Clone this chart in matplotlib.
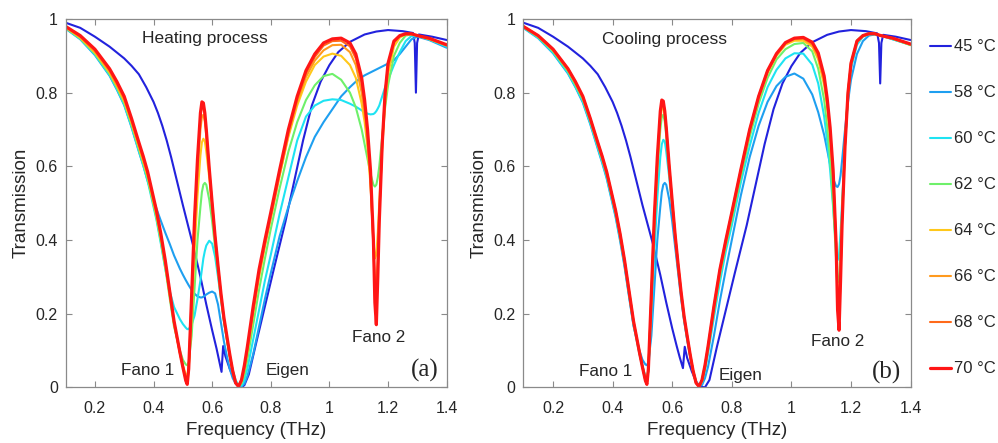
import matplotlib
matplotlib.use("Agg")
import matplotlib.pyplot as plt

plt.rcParams['font.family'] = ['Liberation Sans', 'DejaVu Sans']

# ---------------- data ----------------
temps = ["45 °C", "58 °C", "60 °C", "62 °C", "64 °C", "66 °C", "68 °C", "70 °C"]
colors = ["#2222dd", "#1e9ff0", "#1ee3f2", "#6ef06a", "#ffc81a", "#ff9a1e", "#ff6a1a", "#ff1616"]

# shared frequency grid (THz) for the 58-70 °C curves
freq = [0.10, 0.15, 0.20, 0.25, 0.275,
        0.30, 0.325, 0.35, 0.365, 0.38,
        0.41, 0.425, 0.44, 0.455, 0.47,
        0.49, 0.50, 0.51, 0.515, 0.52,
        0.53, 0.54, 0.55, 0.56, 0.565,
        0.57, 0.575, 0.58, 0.59, 0.60,
        0.61, 0.62, 0.63, 0.64, 0.65,
        0.66, 0.67, 0.68, 0.69, 0.70,
        0.71, 0.72, 0.74, 0.76, 0.78,
        0.80, 0.83, 0.86, 0.89, 0.92,
        0.95, 0.98, 1.01, 1.04, 1.07,
        1.09, 1.11, 1.12, 1.13, 1.14,
        1.15, 1.155, 1.16, 1.165, 1.17,
        1.18, 1.19, 1.20, 1.22, 1.24,
        1.26, 1.28, 1.30, 1.34, 1.40]

# ---- (a) heating ----
t58_a = [0.974, 0.945, 0.902, 0.846, 0.808,
         0.766, 0.706, 0.640, 0.602, 0.560,
         0.485, 0.452, 0.420, 0.390, 0.358,
         0.322, 0.306, 0.291, 0.284, 0.277,
         0.264, 0.254, 0.247, 0.244, 0.244,
         0.246, 0.249, 0.252, 0.257, 0.260,
         0.255, 0.225, 0.175, 0.125, 0.085,
         0.050, 0.025, 0.010, 0.003, 0.002,
         0.010, 0.030, 0.090, 0.165, 0.240,
         0.310, 0.410, 0.490, 0.560, 0.625,
         0.680, 0.720, 0.755, 0.790, 0.815,
         0.830, 0.842, 0.847, 0.851, 0.855,
         0.859, 0.861, 0.863, 0.865, 0.867,
         0.871, 0.875, 0.879, 0.888, 0.905,
         0.925, 0.945, 0.952, 0.943, 0.922]
t60_a = [0.975, 0.946, 0.904, 0.848, 0.810,
         0.768, 0.708, 0.642, 0.603, 0.560,
         0.455, 0.390, 0.322, 0.262, 0.218,
         0.185, 0.172, 0.162, 0.158, 0.158,
         0.170, 0.195, 0.240, 0.290, 0.320,
         0.350, 0.370, 0.385, 0.398, 0.390,
         0.355, 0.300, 0.240, 0.180, 0.130,
         0.085, 0.047, 0.020, 0.005, 0.004,
         0.020, 0.050, 0.130, 0.210, 0.290,
         0.360, 0.470, 0.570, 0.670, 0.735,
         0.765, 0.778, 0.782, 0.780, 0.770,
         0.762, 0.752, 0.747, 0.743, 0.741,
         0.742, 0.745, 0.750, 0.757, 0.765,
         0.790, 0.815, 0.835, 0.875, 0.910,
         0.940, 0.954, 0.954, 0.945, 0.925]
t62_a = [0.976, 0.947, 0.906, 0.851, 0.814,
         0.772, 0.713, 0.647, 0.608, 0.566,
         0.460, 0.396, 0.325, 0.243, 0.165,
         0.100, 0.075, 0.062, 0.060, 0.068,
         0.140, 0.270, 0.400, 0.490, 0.530,
         0.550, 0.555, 0.550, 0.510, 0.450,
         0.380, 0.310, 0.240, 0.180, 0.130,
         0.085, 0.045, 0.015, 0.003, 0.010,
         0.035, 0.075, 0.170, 0.265, 0.350,
         0.430, 0.540, 0.640, 0.720, 0.780,
         0.820, 0.845, 0.851, 0.835, 0.800,
         0.760, 0.700, 0.660, 0.620, 0.580,
         0.550, 0.545, 0.550, 0.570, 0.600,
         0.680, 0.760, 0.820, 0.900, 0.935,
         0.955, 0.958, 0.955, 0.945, 0.928]
t64_a = [0.977, 0.949, 0.909, 0.855, 0.818,
         0.777, 0.718, 0.652, 0.613, 0.572,
         0.467, 0.404, 0.333, 0.252, 0.172,
         0.092, 0.060, 0.035, 0.030, 0.050,
         0.190, 0.370, 0.520, 0.630, 0.665,
         0.675, 0.668, 0.640, 0.570, 0.490,
         0.405, 0.325, 0.250, 0.185, 0.133,
         0.085, 0.042, 0.012, 0.003, 0.015,
         0.050, 0.095, 0.200, 0.300, 0.385,
         0.460, 0.575, 0.680, 0.765, 0.830,
         0.875, 0.898, 0.906, 0.900, 0.875,
         0.840, 0.770, 0.720, 0.650, 0.550,
         0.400, 0.350, 0.360, 0.420, 0.500,
         0.650, 0.770, 0.850, 0.925, 0.950,
         0.958, 0.959, 0.955, 0.946, 0.929]
t66_a = [0.978, 0.951, 0.912, 0.858, 0.821,
         0.781, 0.722, 0.657, 0.618, 0.577,
         0.472, 0.409, 0.338, 0.256, 0.175,
         0.093, 0.058, 0.025, 0.018, 0.050,
         0.230, 0.430, 0.585, 0.700, 0.735,
         0.740, 0.722, 0.682, 0.585, 0.495,
         0.405, 0.325, 0.250, 0.185, 0.135,
         0.086, 0.043, 0.012, 0.003, 0.016,
         0.052, 0.100, 0.205, 0.303, 0.385,
         0.460, 0.575, 0.685, 0.775, 0.843,
         0.887, 0.915, 0.929, 0.930, 0.910,
         0.875, 0.800, 0.745, 0.665, 0.560,
         0.380, 0.280, 0.270, 0.360, 0.470,
         0.660, 0.790, 0.870, 0.935, 0.953,
         0.958, 0.959, 0.955, 0.946, 0.928]
t68_a = [0.979, 0.953, 0.915, 0.862, 0.826,
         0.786, 0.727, 0.662, 0.623, 0.582,
         0.477, 0.414, 0.342, 0.260, 0.178,
         0.094, 0.056, 0.020, 0.010, 0.050,
         0.245, 0.455, 0.612, 0.735, 0.762,
         0.762, 0.737, 0.694, 0.592, 0.498,
         0.408, 0.328, 0.253, 0.188, 0.138,
         0.088, 0.044, 0.012, 0.002, 0.018,
         0.056, 0.105, 0.213, 0.312, 0.392,
         0.468, 0.584, 0.694, 0.784, 0.853,
         0.897, 0.928, 0.940, 0.941, 0.926,
         0.893, 0.825, 0.765, 0.685, 0.575,
         0.390, 0.240, 0.210, 0.320, 0.460,
         0.665, 0.800, 0.878, 0.938, 0.954,
         0.959, 0.959, 0.955, 0.947, 0.929]
t70_a = [0.980, 0.955, 0.918, 0.865, 0.830,
         0.790, 0.730, 0.665, 0.627, 0.585,
         0.480, 0.417, 0.345, 0.262, 0.180,
         0.095, 0.055, 0.018, 0.008, 0.050,
         0.250, 0.460, 0.620, 0.745, 0.775,
         0.772, 0.745, 0.700, 0.595, 0.500,
         0.410, 0.330, 0.255, 0.190, 0.140,
         0.090, 0.045, 0.012, 0.002, 0.020,
         0.060, 0.110, 0.220, 0.320, 0.400,
         0.475, 0.590, 0.700, 0.790, 0.860,
         0.905, 0.935, 0.946, 0.948, 0.935,
         0.905, 0.840, 0.780, 0.700, 0.590,
         0.400, 0.230, 0.170, 0.300, 0.450,
         0.660, 0.800, 0.880, 0.940, 0.955,
         0.960, 0.960, 0.955, 0.948, 0.930]

freq45_a = [0.10, 0.15, 0.20, 0.25, 0.30, 0.325, 0.35, 0.375, 0.40, 0.415,
            0.43, 0.445, 0.46, 0.48, 0.50, 0.535, 0.56, 0.58, 0.60, 0.615,
            0.625, 0.632, 0.6375, 0.645, 0.66, 0.675, 0.69, 0.70, 0.71, 0.725,
            0.75, 0.78, 0.81, 0.85, 0.88, 0.91, 0.94, 0.97, 1.00, 1.03,
            1.07, 1.12, 1.16, 1.20, 1.25, 1.285, 1.291, 1.295, 1.299, 1.305,
            1.35, 1.40]
t45_a = [0.990, 0.976, 0.952, 0.925, 0.893, 0.873, 0.850, 0.815, 0.775, 0.745,
         0.710, 0.670, 0.625, 0.560, 0.495, 0.385, 0.300, 0.225, 0.155, 0.105,
         0.068, 0.042, 0.112, 0.085, 0.050, 0.022, 0.004, 0.000, 0.006, 0.035,
         0.120, 0.220, 0.320, 0.450, 0.560, 0.670, 0.765, 0.830, 0.875, 0.910,
         0.938, 0.958, 0.966, 0.970, 0.967, 0.962, 0.935, 0.800, 0.935, 0.958,
         0.952, 0.943]

# ---- (b) cooling ----
t58_b = [0.976, 0.948, 0.907, 0.852, 0.815,
         0.773, 0.714, 0.648, 0.609, 0.567,
         0.462, 0.398, 0.327, 0.246, 0.167,
         0.100, 0.075, 0.062, 0.060, 0.068,
         0.140, 0.270, 0.400, 0.490, 0.530,
         0.550, 0.555, 0.550, 0.510, 0.450,
         0.380, 0.310, 0.240, 0.180, 0.130,
         0.085, 0.045, 0.017, 0.004, 0.006,
         0.025, 0.055, 0.140, 0.235, 0.320,
         0.400, 0.520, 0.625, 0.710, 0.775,
         0.818, 0.843, 0.852, 0.838, 0.795,
         0.747, 0.685, 0.645, 0.605, 0.567,
         0.546, 0.544, 0.552, 0.575, 0.615,
         0.700, 0.775, 0.835, 0.905, 0.940,
         0.955, 0.958, 0.955, 0.945, 0.930]
t60_b = [0.977, 0.949, 0.909, 0.854, 0.817,
         0.776, 0.717, 0.651, 0.612, 0.571,
         0.466, 0.403, 0.332, 0.251, 0.170,
         0.090, 0.058, 0.030, 0.022, 0.045,
         0.185, 0.365, 0.515, 0.625, 0.660,
         0.672, 0.668, 0.640, 0.570, 0.490,
         0.405, 0.325, 0.250, 0.185, 0.133,
         0.085, 0.043, 0.013, 0.004, 0.012,
         0.045, 0.090, 0.190, 0.285, 0.370,
         0.440, 0.555, 0.655, 0.745, 0.815,
         0.862, 0.893, 0.907, 0.906, 0.876,
         0.825, 0.735, 0.670, 0.590, 0.490,
         0.375, 0.345, 0.360, 0.420, 0.500,
         0.660, 0.785, 0.865, 0.930, 0.952,
         0.958, 0.958, 0.955, 0.945, 0.930]
t62_b = [0.978, 0.951, 0.912, 0.858, 0.821,
         0.781, 0.722, 0.657, 0.618, 0.577,
         0.472, 0.409, 0.338, 0.256, 0.175,
         0.093, 0.058, 0.025, 0.018, 0.050,
         0.230, 0.430, 0.585, 0.700, 0.735,
         0.740, 0.722, 0.682, 0.585, 0.495,
         0.405, 0.325, 0.250, 0.185, 0.135,
         0.086, 0.043, 0.012, 0.003, 0.016,
         0.052, 0.100, 0.205, 0.303, 0.385,
         0.455, 0.570, 0.680, 0.770, 0.840,
         0.890, 0.918, 0.932, 0.935, 0.912,
         0.865, 0.780, 0.710, 0.620, 0.500,
         0.350, 0.285, 0.290, 0.380, 0.480,
         0.670, 0.805, 0.880, 0.942, 0.956,
         0.960, 0.960, 0.955, 0.946, 0.929]
t64_b = [0.979, 0.953, 0.915, 0.862, 0.826,
         0.786, 0.727, 0.662, 0.623, 0.582,
         0.477, 0.414, 0.342, 0.260, 0.178,
         0.094, 0.056, 0.020, 0.010, 0.050,
         0.240, 0.450, 0.605, 0.728, 0.756,
         0.760, 0.740, 0.697, 0.594, 0.500,
         0.410, 0.330, 0.255, 0.190, 0.140,
         0.090, 0.045, 0.012, 0.002, 0.018,
         0.056, 0.105, 0.213, 0.312, 0.392,
         0.468, 0.584, 0.694, 0.784, 0.853,
         0.900, 0.930, 0.941, 0.941, 0.925,
         0.890, 0.820, 0.760, 0.680, 0.565,
         0.385, 0.260, 0.225, 0.320, 0.460,
         0.660, 0.795, 0.876, 0.937, 0.953,
         0.959, 0.959, 0.955, 0.947, 0.930]
t66_b = [0.980, 0.954, 0.917, 0.864, 0.828,
         0.788, 0.729, 0.664, 0.625, 0.584,
         0.479, 0.416, 0.344, 0.261, 0.179,
         0.095, 0.055, 0.019, 0.009, 0.050,
         0.245, 0.455, 0.615, 0.738, 0.766,
         0.770, 0.745, 0.700, 0.596, 0.502,
         0.411, 0.331, 0.256, 0.191, 0.140,
         0.090, 0.045, 0.012, 0.002, 0.019,
         0.058, 0.108, 0.217, 0.316, 0.396,
         0.472, 0.587, 0.697, 0.787, 0.857,
         0.903, 0.933, 0.945, 0.946, 0.930,
         0.897, 0.830, 0.770, 0.690, 0.575,
         0.390, 0.240, 0.195, 0.310, 0.455,
         0.660, 0.800, 0.878, 0.938, 0.954,
         0.960, 0.960, 0.955, 0.948, 0.931]
t68_b = [0.980, 0.955, 0.918, 0.865, 0.830,
         0.790, 0.730, 0.665, 0.627, 0.585,
         0.480, 0.417, 0.345, 0.262, 0.180,
         0.095, 0.055, 0.018, 0.008, 0.050,
         0.250, 0.460, 0.620, 0.745, 0.774,
         0.774, 0.748, 0.703, 0.598, 0.503,
         0.412, 0.332, 0.257, 0.192, 0.140,
         0.090, 0.045, 0.012, 0.002, 0.020,
         0.060, 0.110, 0.220, 0.320, 0.400,
         0.475, 0.590, 0.700, 0.790, 0.860,
         0.905, 0.935, 0.947, 0.948, 0.934,
         0.903, 0.838, 0.778, 0.697, 0.582,
         0.390, 0.225, 0.175, 0.300, 0.450,
         0.660, 0.800, 0.879, 0.939, 0.954,
         0.960, 0.960, 0.955, 0.948, 0.932]
t70_b = [0.980, 0.955, 0.918, 0.865, 0.830,
         0.790, 0.730, 0.665, 0.627, 0.585,
         0.480, 0.417, 0.345, 0.262, 0.180,
         0.095, 0.055, 0.018, 0.008, 0.050,
         0.255, 0.465, 0.625, 0.750, 0.780,
         0.777, 0.750, 0.705, 0.600, 0.505,
         0.412, 0.332, 0.257, 0.192, 0.140,
         0.090, 0.045, 0.012, 0.002, 0.020,
         0.060, 0.110, 0.220, 0.320, 0.400,
         0.475, 0.590, 0.700, 0.790, 0.860,
         0.906, 0.936, 0.948, 0.950, 0.937,
         0.908, 0.845, 0.785, 0.705, 0.590,
         0.390, 0.210, 0.155, 0.290, 0.440,
         0.655, 0.800, 0.880, 0.940, 0.955,
         0.960, 0.960, 0.955, 0.948, 0.932]

freq45_b = [0.10, 0.15, 0.20, 0.25, 0.30, 0.325, 0.35, 0.375, 0.40, 0.415,
            0.43, 0.445, 0.46, 0.48, 0.50, 0.535, 0.56, 0.58, 0.60, 0.615,
            0.625, 0.636, 0.642, 0.65, 0.665, 0.68, 0.69, 0.70, 0.71, 0.725,
            0.75, 0.78, 0.81, 0.85, 0.88, 0.91, 0.94, 0.97, 1.00, 1.03,
            1.07, 1.12, 1.16, 1.20, 1.25, 1.288, 1.294, 1.298, 1.302, 1.308,
            1.35, 1.40]
t45_b = [0.990, 0.976, 0.952, 0.925, 0.893, 0.873, 0.850, 0.815, 0.775, 0.745,
         0.710, 0.670, 0.625, 0.560, 0.495, 0.390, 0.305, 0.230, 0.160, 0.112,
         0.082, 0.052, 0.110, 0.080, 0.045, 0.015, 0.005, 0.001, 0.000, 0.020,
         0.110, 0.210, 0.310, 0.440, 0.550, 0.660, 0.755, 0.825, 0.872, 0.908,
         0.937, 0.957, 0.966, 0.970, 0.967, 0.961, 0.935, 0.825, 0.935, 0.957,
         0.952, 0.943]

x_ticks = [0.2, 0.4, 0.6, 0.8, 1.0, 1.2, 1.4]
x_tick_labels = ["0.2", "0.4", "0.6", "0.8", "1", "1.2", "1.4"]
y_ticks = [0, 0.2, 0.4, 0.6, 0.8, 1.0]
y_tick_labels = ["0", "0.2", "0.4", "0.6", "0.8", "1"]

panel_a = [(freq45_a, t45_a), (freq, t58_a), (freq, t60_a), (freq, t62_a),
           (freq, t64_a), (freq, t66_a), (freq, t68_a), (freq, t70_a)]
panel_b = [(freq45_b, t45_b), (freq, t58_b), (freq, t60_b), (freq, t62_b),
           (freq, t64_b), (freq, t66_b), (freq, t68_b), (freq, t70_b)]

# ---------------- figure ----------------
fig = plt.figure(figsize=(9.98, 4.43), dpi=100)
ax_a = fig.add_axes([0.0657, 0.1257, 0.3819, 0.8314])
ax_b = fig.add_axes([0.5243, 0.1257, 0.3881, 0.8314])

spine_col = "#8a8a8a"
text_col = "#262626"

handles = []
for ax, series in ((ax_a, panel_a), (ax_b, panel_b)):
    for i, (fx, ty) in enumerate(series):
        lw = 2.3 if i == 7 else 1.5
        h, = ax.plot(fx, ty, color=colors[i], lw=lw, label=temps[i],
                     solid_joinstyle="round", solid_capstyle="round")
        if ax is ax_b:
            handles.append(h)
    ax.set_xlim(0.1, 1.4)
    ax.set_ylim(0, 1)
    ax.set_xticks(x_ticks)
    ax.set_xticklabels(x_tick_labels)
    ax.set_yticks(y_ticks)
    ax.set_yticklabels(y_tick_labels)
    ax.tick_params(direction="in", length=4, width=0.8, color=spine_col,
                   labelsize=11.5, labelcolor=text_col, top=True, right=True)
    ax.tick_params(axis="x", pad=10)
    ax.tick_params(axis="y", pad=5.5)
    for s in ax.spines.values():
        s.set_color(spine_col)
        s.set_linewidth(0.9)
    ax.set_xlabel("Frequency (THz)", fontsize=13.5, color=text_col, labelpad=4)
    ax.set_ylabel("Transmission", fontsize=13.5, color=text_col, labelpad=4)

ax_a.text(0.359, 0.946, "Heating process", fontsize=12.5, color=text_col, va="center", ha="left")
ax_a.text(0.288, 0.045, "Fano 1", fontsize=12.3, color=text_col, va="center", ha="left")
ax_a.text(0.781, 0.045, "Eigen", fontsize=12.3, color=text_col, va="center", ha="left")
ax_a.text(1.076, 0.135, "Fano 2", fontsize=12.3, color=text_col, va="center", ha="left")
ax_a.text(1.372, 0.045, "(a)", fontsize=18, family="Liberation Serif", color=text_col,
          va="center", ha="right")

ax_b.text(0.365, 0.943, "Cooling process", fontsize=12.5, color=text_col, va="center", ha="left")
ax_b.text(0.287, 0.044, "Fano 1", fontsize=12.3, color=text_col, va="center", ha="left")
ax_b.text(0.755, 0.033, "Eigen", fontsize=12.3, color=text_col, va="center", ha="left")
ax_b.text(1.066, 0.124, "Fano 2", fontsize=12.3, color=text_col, va="center", ha="left")
ax_b.text(1.368, 0.040, "(b)", fontsize=18, family="Liberation Serif", color=text_col,
          va="center", ha="right")

fig.legend(handles=handles, loc="upper left", bbox_to_anchor=(0.925, 0.926),
           frameon=False, fontsize=12, handlelength=1.3, handletextpad=0.15,
           labelspacing=1.86, borderaxespad=0.0, labelcolor=text_col)

fig.savefig("out.png", dpi=100)
